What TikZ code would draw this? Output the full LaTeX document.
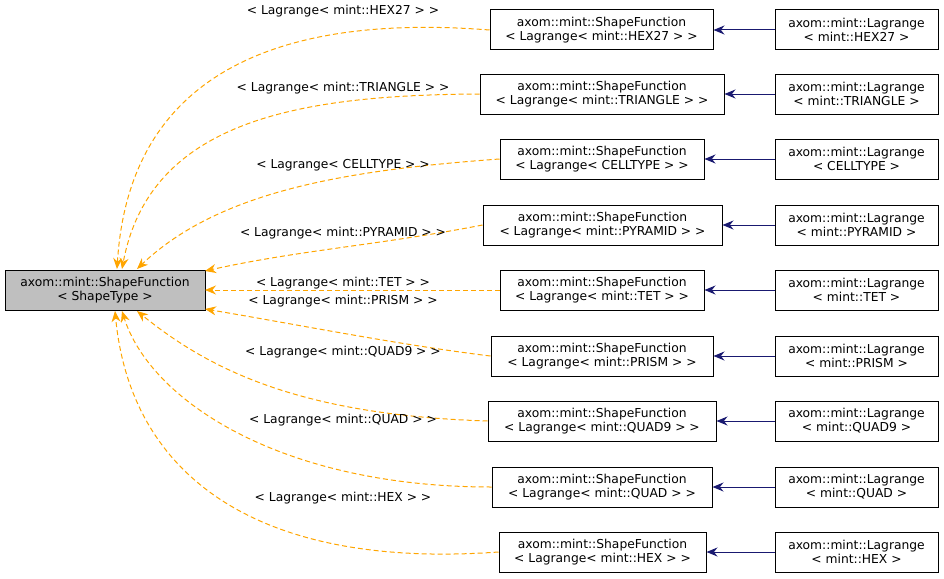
\documentclass[tikz,border=0pt]{standalone}
\usepackage{fontspec}
\setmainfont{DejaVu Sans}
\usetikzlibrary{arrows.meta}
\definecolor{navy}{HTML}{191970}
\definecolor{dor}{HTML}{FFA500}
\begin{document}
\begin{tikzpicture}[x=1pt,y=-1pt,font=\fontsize{12.3}{14}\selectfont,line width=1pt,
  box/.style={draw,fill=white,align=center,inner sep=0pt,minimum height=40},
  inh/.style={navy,-{Stealth[length=11,width=9]}},
  tpl/.style={dor,dash pattern=on 5pt off 3pt,-{Stealth[length=11,width=9]}},
  lab/.style={inner sep=1pt}]
\useasboundingbox (0,0) rectangle (944,578);
\node[box,fill={rgb,255:red,191;green,191;blue,191},minimum width=200] (L) at (105,290) {axom::mint::ShapeFunction\\< ShapeType >};
\foreach \n/\t/\y/\xa/\xb in {
 a/HEX27/30/490/713, b/TRIANGLE/94/480/724, c/CELLTYPE/159/500/704,
 d/PYRAMID/225/483/722, e/TET/290/500/704, f/PRISM/356/491/713,
 g/QUAD9/421/488/716, h/QUAD/487/492/712, i/HEX/552/499/706}{
 \def\pre{mint::}
 \ifnum\pdfstrcmp{\t}{CELLTYPE}=0 \def\pre{}\fi
 \node[box,minimum width={\xb-\xa}] (m\n) at ({(\xa+\xb)/2},\y) {axom::mint::ShapeFunction\\< Lagrange< \pre\t\ > >};
 \node[box,minimum width=163] (r\n) at (856.5,\y) {axom::mint::Lagrange\\< \pre\t\ >};
 \draw[inh] (r\n) -- (m\n);
}
\coordinate (ea) at (117,269); \coordinate (eb) at (122,269); \coordinate (ec) at (137,269);
\coordinate (ed) at (205,271); \coordinate (ee) at (205,290); \coordinate (ef) at (205,309);
\coordinate (eg) at (137,311); \coordinate (eh) at (122,311); \coordinate (ei) at (115,311);
\draw[tpl] (ma.west) .. controls (300,15) and (130,60) .. (ea);
\draw[tpl] (mb.west) .. controls (300,95) and (150,120) .. (eb);
\draw[tpl] (mc.west) .. controls (350,170) and (220,190) .. (ec);
\draw[tpl] (md.west) .. controls (380,245) and (300,250) .. (ed);
\draw[tpl] (me.west) -- (ee);
\draw[tpl] (mf.west) .. controls (400,345) and (300,325) .. (ef);
\draw[tpl] (mg.west) .. controls (300,415) and (210,370) .. (eg);
\draw[tpl] (mh.west) .. controls (280,487) and (150,400) .. (eh);
\draw[tpl] (mi.west) .. controls (250,570) and (130,470) .. (ei);
\node[lab] (la) at (343,11) {< Lagrange< mint::HEX27 > >};
\node[lab] (lb) at (343,88) {< Lagrange< mint::TRIANGLE > >};
\node[lab] (lc) at (343,165) {< Lagrange< CELLTYPE > >};
\node[lab] (ld) at (343,233) {< Lagrange< mint::PYRAMID > >};
\node[lab] (le) at (343,283) {< Lagrange< mint::TET > >};
\node[lab] (lf) at (343,301) {< Lagrange< mint::PRISM > >};
\node[lab] (lg) at (343,352) {< Lagrange< mint::QUAD9 > >};
\node[lab] (lh) at (343,420) {< Lagrange< mint::QUAD > >};
\node[lab] (li) at (343,498) {< Lagrange< mint::HEX > >};
\end{tikzpicture}
\end{document}
